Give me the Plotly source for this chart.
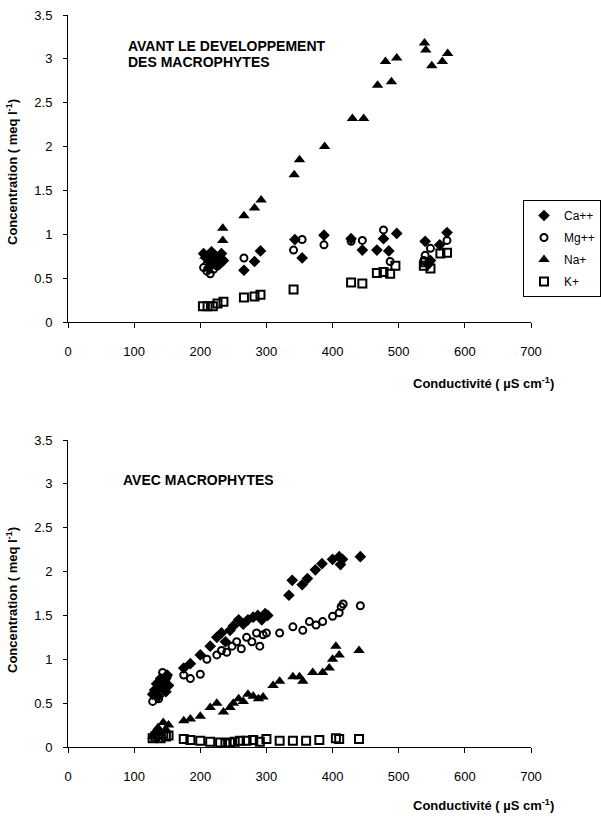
import plotly.graph_objects as go

# ---- Top chart data (avant le developpement des macrophytes) ----
top_ca_x = [205, 210, 213, 217, 220, 223, 228, 232, 235, 266, 282, 291, 343, 354, 387, 428, 445, 467, 477, 485, 497, 540, 545, 548, 562, 573]
top_ca_y = [0.78, 0.72, 0.62, 0.80, 0.68, 0.75, 0.65, 0.78, 0.70, 0.59, 0.69, 0.81, 0.94, 0.73, 0.99, 0.95, 0.82, 0.82, 0.95, 0.81, 1.01, 0.92, 0.66, 0.70, 0.88, 1.02]
top_mg_x = [205, 210, 215, 220, 225, 266, 341, 354, 387, 428, 445, 477, 487, 538, 540, 548, 573]
top_mg_y = [0.62, 0.58, 0.55, 0.60, 0.64, 0.73, 0.82, 0.94, 0.88, 0.92, 0.93, 1.05, 0.69, 0.70, 0.76, 0.84, 0.93]
top_na_x = [207, 212, 218, 222, 228, 234, 234, 266, 282, 292, 342, 350, 388, 430, 447, 468, 489, 480, 497, 539, 541, 550, 566, 574]
top_na_y = [0.75, 0.70, 0.78, 0.65, 0.72, 0.93, 1.07, 1.21, 1.30, 1.39, 1.68, 1.85, 2.00, 2.32, 2.32, 2.70, 2.74, 2.97, 3.01, 3.18, 3.10, 2.92, 2.97, 3.06]
top_k_x = [204, 211, 219, 226, 235, 266, 282, 291, 341, 428, 445, 467, 477, 487, 495, 538, 540, 548, 563, 573]
top_k_y = [0.18, 0.18, 0.18, 0.21, 0.23, 0.28, 0.29, 0.31, 0.37, 0.45, 0.44, 0.56, 0.57, 0.55, 0.64, 0.64, 0.68, 0.61, 0.78, 0.79]

# ---- Bottom chart data (avec macrophytes) ----
bot_ca_x = [128, 131, 134, 137, 140, 143, 146, 148, 150, 152, 175, 185, 200, 215, 225, 232, 238, 245, 250, 258, 265, 272, 280, 287, 293, 298, 302, 334, 339, 354, 362, 374, 384, 400, 410, 412, 415, 442]
bot_ca_y = [0.60, 0.65, 0.72, 0.58, 0.78, 0.68, 0.75, 0.63, 0.82, 0.70, 0.90, 0.95, 1.05, 1.15, 1.25, 1.30, 1.20, 1.33, 1.38, 1.45, 1.40, 1.45, 1.48, 1.50, 1.45, 1.52, 1.50, 1.73, 1.90, 1.85, 1.92, 2.02, 2.09, 2.14, 2.17, 2.08, 2.14, 2.17]
bot_mg_x = [128, 131, 134, 137, 140, 143, 146, 150, 175, 185, 200, 210, 225, 232, 240, 248, 255, 262, 270, 278, 285, 290, 295, 300, 320, 340, 355, 365, 375, 385, 400, 410, 413, 416, 442]
bot_mg_y = [0.52, 0.60, 0.65, 0.55, 0.70, 0.85, 0.75, 0.80, 0.82, 0.78, 0.83, 1.00, 1.05, 1.10, 1.08, 1.15, 1.20, 1.12, 1.25, 1.20, 1.30, 1.15, 1.28, 1.30, 1.30, 1.37, 1.33, 1.43, 1.39, 1.43, 1.49, 1.53, 1.60, 1.63, 1.61]
bot_na_x = [128, 132, 136, 140, 144, 148, 152, 175, 185, 200, 215, 225, 235, 245, 250, 258, 265, 272, 280, 288, 295, 310, 320, 340, 350, 355, 370, 385, 395, 400, 405, 410, 440]
bot_na_y = [0.12, 0.18, 0.22, 0.15, 0.28, 0.20, 0.25, 0.30, 0.32, 0.35, 0.45, 0.50, 0.40, 0.45, 0.50, 0.55, 0.52, 0.60, 0.58, 0.55, 0.57, 0.70, 0.75, 0.80, 0.80, 0.75, 0.85, 0.85, 0.90, 1.00, 1.15, 1.05, 1.10]
bot_k_x = [128, 132, 136, 140, 144, 148, 152, 175, 185, 200, 215, 230, 238, 245, 252, 260, 270, 280, 290, 300, 320, 340, 360, 380, 405, 410, 440]
bot_k_y = [0.10, 0.12, 0.14, 0.10, 0.15, 0.12, 0.13, 0.09, 0.08, 0.07, 0.06, 0.05, 0.04, 0.05, 0.06, 0.07, 0.07, 0.08, 0.06, 0.09, 0.07, 0.07, 0.07, 0.08, 0.10, 0.09, 0.09]

series_names = ["Ca++", "Mg++", "Na+", "K+"]
x_ticks = [0, 100, 200, 300, 400, 500, 600, 700]
y_ticks = [0, 0.5, 1, 1.5, 2, 2.5, 3, 3.5]
y_ticktext = ["0", "0.5", "1", "1.5", "2", "2.5", "3", "3.5"]

FONT = "Liberation Sans, Arial, sans-serif"
styles = [
    dict(symbol="diamond", size=9, color="black", line=dict(width=0)),
    dict(symbol="circle-open", size=7, color="black", line=dict(width=2, color="black")),
    dict(symbol="triangle-up", size=10, color="black", line=dict(width=0)),
    dict(symbol="square-open", size=8, color="black", line=dict(width=2, color="black")),
]

fig = go.Figure()
top = [(top_ca_x, top_ca_y), (top_mg_x, top_mg_y), (top_na_x, top_na_y), (top_k_x, top_k_y)]
bot = [(bot_ca_x, bot_ca_y), (bot_mg_x, bot_mg_y), (bot_na_x, bot_na_y), (bot_k_x, bot_k_y)]
for i, (xs, ys) in enumerate(top):
    fig.add_trace(go.Scatter(x=xs, y=ys, mode="markers", name=series_names[i],
                             marker=styles[i], xaxis="x", yaxis="y",
                             legendgroup=series_names[i], showlegend=True))
for i, (xs, ys) in enumerate(bot):
    fig.add_trace(go.Scatter(x=xs, y=ys, mode="markers", name=series_names[i],
                             marker=styles[i], xaxis="x2", yaxis="y2",
                             legendgroup="b" + series_names[i], showlegend=False))

W, H = 601, 819
def px(v):
    return v / W
def py(v):
    return 1 - v / H

xcommon = dict(range=[0, 700], tickvals=x_ticks, showgrid=False, zeroline=False, automargin=False,
               showline=True, linecolor="black", linewidth=1, ticks="outside",
               ticklen=5, tickcolor="black", tickfont=dict(family=FONT, size=13, color="black"),
               ticklabelstandoff=12, domain=[px(68), px(531)])
ycommon = dict(range=[0, 3.5], tickvals=y_ticks, ticktext=y_ticktext,
               showgrid=False, zeroline=False, automargin=False,
               showline=True, linecolor="black", linewidth=1, ticks="outside",
               ticklen=4, tickcolor="black", tickfont=dict(family=FONT, size=13, color="black"),
               ticklabelstandoff=8)

fig.update_layout(
    width=W, height=H, margin=dict(l=0, r=0, t=0, b=0, autoexpand=False),
    paper_bgcolor="white", plot_bgcolor="white",
    xaxis=dict(**xcommon, anchor="y"),
    yaxis=dict(**ycommon, domain=[py(322), py(15)], anchor="x"),
    xaxis2=dict(**xcommon, anchor="y2"),
    yaxis2=dict(**ycommon, domain=[py(747), py(440)], anchor="x2"),
    legend=dict(x=1.0, y=py(200), xanchor="right", yanchor="top",
                bordercolor="black", borderwidth=1, bgcolor="white",
                font=dict(family=FONT, size=12, color="black"),
                tracegroupgap=3, itemwidth=30),
    showlegend=True,
)

ann_font = dict(family=FONT, size=14, color="black")
title_font = dict(family=FONT, size=13, color="black")
fig.add_annotation(x=px(126), y=py(46), xref="paper", yref="paper", xanchor="left", yanchor="middle",
                   text="<b>AVANT LE DEVELOPPEMENT</b>", showarrow=False, align="left", font=ann_font)
fig.add_annotation(x=px(126), y=py(62), xref="paper", yref="paper", xanchor="left", yanchor="middle",
                   text="<b>DES MACROPHYTES</b>", showarrow=False, align="left", font=ann_font)
fig.add_annotation(x=px(121), y=py(480), xref="paper", yref="paper", xanchor="left", yanchor="middle",
                   text="<b>AVEC MACROPHYTES</b>", showarrow=False, align="left", font=ann_font)
for yc in (172, 600):
    fig.add_annotation(x=px(12), y=py(yc), xref="paper", yref="paper", xanchor="center", yanchor="middle",
                       text="<b>Concentration ( meq l<sup>-1</sup>)</b>", textangle=-90,
                       showarrow=False, font=title_font)
for yc in (383, 805):
    fig.add_annotation(x=px(484), y=py(yc), xref="paper", yref="paper", xanchor="center", yanchor="middle",
                       text="<b>Conductivité ( µS cm<sup>-1</sup>)</b>",
                       showarrow=False, font=title_font)

fig.write_html("out.html", config={"displayModeBar": False},
               post_script="document.body.style.margin='0';document.body.style.overflow='hidden';")
